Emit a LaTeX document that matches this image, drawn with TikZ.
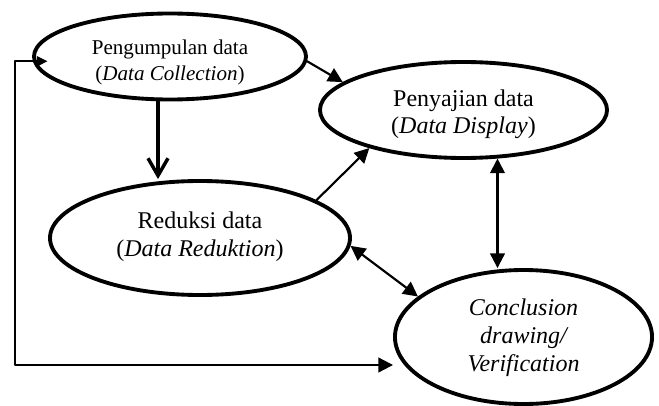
\documentclass[tikz,border=0pt]{standalone}
\usepackage{fontspec}
\setmainfont{Liberation Serif}
\usetikzlibrary{arrows.meta}
\usetikzlibrary{shapes.geometric}

\begin{document}
\begin{tikzpicture}[line cap=round,line join=round,>={Triangle[length=11pt,width=11pt]},x=0.75pt,y=-0.75pt,
  ellip/.style={draw,ellipse,line width=2.9pt,inner sep=0pt},
  conn/.style={line width=1.6pt},
  txt/.style={align=center,inner sep=0pt,font=\fontsize{18}{21}\selectfont}]
\useasboundingbox (0,0) rectangle (659,406);
% the four stages
\node[ellip,minimum width=204pt,minimum height=64.5pt] (peng) at (170,56.5) {};
\node[ellip,minimum width=215.3pt,minimum height=72pt] (peny) at (463.5,110) {};
\node[ellip,minimum width=225pt,minimum height=85.5pt] (red) at (200,238) {};
\node[ellip,minimum width=192.8pt,minimum height=100.5pt] (conc) at (523.5,337) {};
\node[txt,font=\fontsize{15.8}{19.5}\selectfont] (pengtxt) at (170,62.5) {Pengumpulan data\\(\textit{Data Collection})};
\node[txt,font=\fontsize{18}{20.3}\selectfont] (penytxt) at (463.5,114) {Penyajian data\\(\textit{Data Display})};
\node[txt] (redtxt) at (200,236.5) {Reduksi data\\(\textit{Data Reduktion})};
\node[txt,font=\itshape\fontsize{18}{21}\selectfont] (conctxt) at (523.5,338) {Conclusion\\drawing/\\Verification};
% connections
\draw[->,conn] (peng.-2) -- (peny.167);
\draw[->,conn] (red.18) -- (peny.202);
\draw[<->,conn] (red.-3) -- (conc.159);
\draw[<->,conn] (peny.-55.5) -- (peny.-55.5 |- conc.north);
\draw[-{Straight Barb[length=13pt,width=15pt]},line width=2.6pt] (peng.-105) -- (peng.-105 |- red.north);
\coordinate (fb) at (15,365);
\draw[{Triangle[length=8pt,width=7.5pt]}->,conn] ([xshift=11pt]peng.182) -| (fb) -- (fb -| conc.west);
\end{tikzpicture}
\end{document}
